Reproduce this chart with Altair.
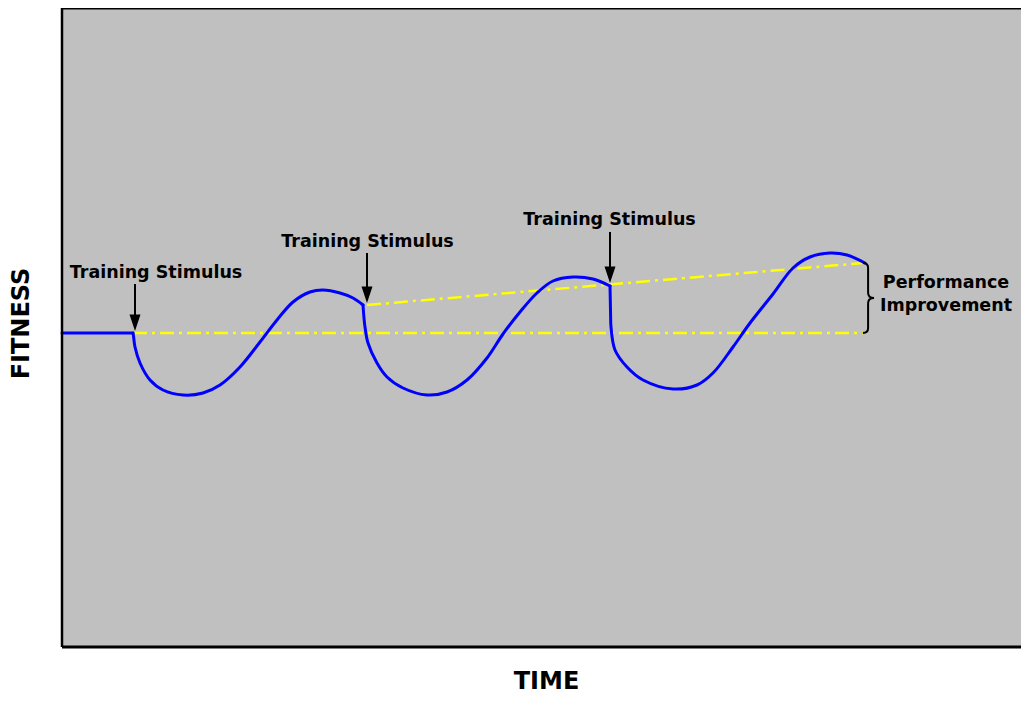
import altair as alt
import pandas as pd

# ---- Fitness response curve (time units, fitness units), one list per phase ----
phase0_t = [0.0, 7.1]
phase0_f = [31.4, 31.4]

phase1_t = [7.1, 7.15, 7.3, 7.8, 8.8, 10.1, 12.1, 14.1, 15.8, 17.8, 19.8, 21.5, 23.1, 24.8, 26.1, 27.8, 29.1, 30.1]
phase1_f = [31.4, 31.1, 30.0, 28.4, 26.7, 25.7, 25.2, 25.4, 26.2, 28.0, 30.5, 32.7, 34.5, 35.5, 35.7, 35.4, 34.9, 34.2]

phase2_t = [30.1, 30.2, 30.3, 30.6, 31.5, 32.5, 34.1, 36.5, 38.5, 40.5, 42.5, 44.1, 45.8, 47.5, 49.1, 51.1, 53.1, 54.8]
phase2_f = [34.2, 32.9, 32.0, 30.4, 28.4, 27.0, 25.9, 25.2, 25.5, 26.7, 28.9, 31.3, 33.5, 35.4, 36.6, 37.0, 36.8, 36.1]

phase3_t = [54.8, 54.83, 54.86, 54.9, 55.3, 56.5, 58.1, 61.1, 63.5, 65.1, 67.1, 68.8, 71.1, 73.1, 74.8, 76.8, 78.5, 80.3]
phase3_f = [36.1, 34.7, 33.2, 32.0, 29.7, 28.0, 26.7, 25.8, 26.2, 27.4, 30.0, 32.4, 35.3, 37.9, 39.0, 39.4, 39.2, 38.4]

# ---- Reference lines (baseline and improvement trend) ----
base_t = [7.1, 80.1]
base_f = [31.4, 31.4]
trend_t = [30.5, 80.1]
trend_f = [34.2, 38.4]

# ---- Training stimulus arrows and labels ----
arrow_t = [7.3, 30.5, 54.8]
arrow_top_f = [36.3, 39.4, 41.5]
arrow_tip_f = [31.6, 34.4, 36.4]
label_t = [9.4, 30.55, 54.75]
label_f = [36.9, 40.0, 42.2]
label_text = ["Training Stimulus", "Training Stimulus", "Training Stimulus"]

perf_t = [88.4, 88.4]
perf_f = [35.9, 33.6]
perf_text = ["Performance", "Improvement"]

X_DOMAIN = [0, 95.9]
Y_DOMAIN = [0, 63.9]

FONT = "DejaVu Sans"

x_axis = alt.Axis(title="TIME", labels=False, ticks=False, domain=False, grid=False,
                  titleFont=FONT, titleFontSize=24, titleFontWeight="bold", titleColor="black",
                  titleX=484, titleY=41, titleAlign="center", titleBaseline="alphabetic")
y_axis = alt.Axis(title="FITNESS", labels=False, ticks=False, domain=False, grid=False,
                  titleFont=FONT, titleFontSize=24, titleFontWeight="bold", titleColor="black",
                  titleX=-34, titleY=315, titleAngle=270, titleAlign="center",
                  titleBaseline="alphabetic")


def X(field):
    return alt.X(f"{field}:Q", scale=alt.Scale(domain=X_DOMAIN, nice=False, zero=False), axis=x_axis)


def Y(field):
    return alt.Y(f"{field}:Q", scale=alt.Scale(domain=Y_DOMAIN, nice=False, zero=False), axis=y_axis)


# curve table
rows = []
for name, ts, fs in [("p0", phase0_t, phase0_f), ("p1", phase1_t, phase1_f),
                     ("p2", phase2_t, phase2_f), ("p3", phase3_t, phase3_f)]:
    for i, (t, f) in enumerate(zip(ts, fs)):
        rows.append({"t": t, "f": f, "phase": name, "i": i})
curve_df = pd.DataFrame(rows)

ref_rows = []
for name, ts, fs in [("base", base_t, base_f), ("trend", trend_t, trend_f)]:
    for t, f in zip(ts, fs):
        ref_rows.append({"t": t, "f": f, "grp": name})
ref_df = pd.DataFrame(ref_rows)

arrow_df = pd.DataFrame({"t": arrow_t, "top": arrow_top_f, "tip": arrow_tip_f,
                         "shaft_end": [v + 1.0 for v in arrow_tip_f]})
label_df = pd.DataFrame({"t": label_t, "f": label_f, "txt": label_text})
perf_df = pd.DataFrame({"t": perf_t, "f": perf_f, "txt": perf_text})
brace_df = pd.DataFrame({"t": [trend_t[-1] + 0.3], "f": [(base_f[-1] + trend_f[-1]) / 2]})

one = pd.DataFrame({"a": [0]})

frame_left = alt.Chart(one).mark_rule(color="black", strokeWidth=2.5).encode(
    x=alt.value(0), y=alt.value(0), y2=alt.value("height"))
frame_top = alt.Chart(one).mark_rule(color="black", strokeWidth=3).encode(
    x=alt.value(0), x2=alt.value("width"), y=alt.value(0))
frame_bottom = alt.Chart(one).mark_rule(color="black", strokeWidth=3).encode(
    x=alt.value(0), x2=alt.value("width"), y=alt.value("height"))

ref_lines = alt.Chart(ref_df).mark_line(color="#FFFF00", strokeWidth=2.5, strokeDash=[14, 5, 3, 5]).encode(
    x=X("t"), y=Y("f"), detail="grp:N")

curve = alt.Chart(curve_df).mark_line(color="#0000FF", strokeWidth=3, interpolate="catmull-rom",
                                      strokeCap="round", strokeJoin="round").encode(
    x=X("t"), y=Y("f"), detail="phase:N", order="i:Q")

shafts = alt.Chart(arrow_df).mark_rule(color="black", strokeWidth=2).encode(
    x=X("t"), y=Y("top"), y2="shaft_end:Q")

head_path = "M-1,-3 L1,-3 L0,0 Z"
heads = alt.Chart(arrow_df).mark_point(shape=head_path, size=121, filled=True, color="black",
                                        opacity=1, strokeWidth=0).encode(x=X("t"), y=Y("tip"))

labels = alt.Chart(label_df).mark_text(font=FONT, fontSize=17.5, fontWeight="bold", color="black",
                                        align="center", baseline="alphabetic").encode(
    x=X("t"), y=Y("f"), text="txt:N")

perf = alt.Chart(perf_df).mark_text(font=FONT, fontSize=17.5, fontWeight="bold", color="black",
                                     align="center", baseline="alphabetic").encode(
    x=X("t"), y=Y("f"), text="txt:N")

brace_path = ("M-0.09,-1 Q0.06,-1 0.06,-0.86 L0.06,-0.15 Q0.06,0 0.23,0 "
              "Q0.06,0 0.06,0.15 L0.06,0.86 Q0.06,1 -0.09,1")
brace = alt.Chart(brace_df).mark_point(shape=brace_path, size=4900, filled=False, color="black",
                                        strokeWidth=2, opacity=1).encode(x=X("t"), y=Y("f"))

chart = alt.layer(
    ref_lines, curve, shafts, heads, labels, perf, brace, frame_left, frame_top, frame_bottom
).properties(
    width=959, height=639,
    padding={"left": 54, "top": 0, "right": 0, "bottom": 48},
    autosize=alt.AutoSizeParams(type="none"),
    background="white",
).configure_view(
    fill="#C0C0C0", stroke="transparent"
)

chart.save("out.html", embed_options={"renderer": "svg", "actions": False})
